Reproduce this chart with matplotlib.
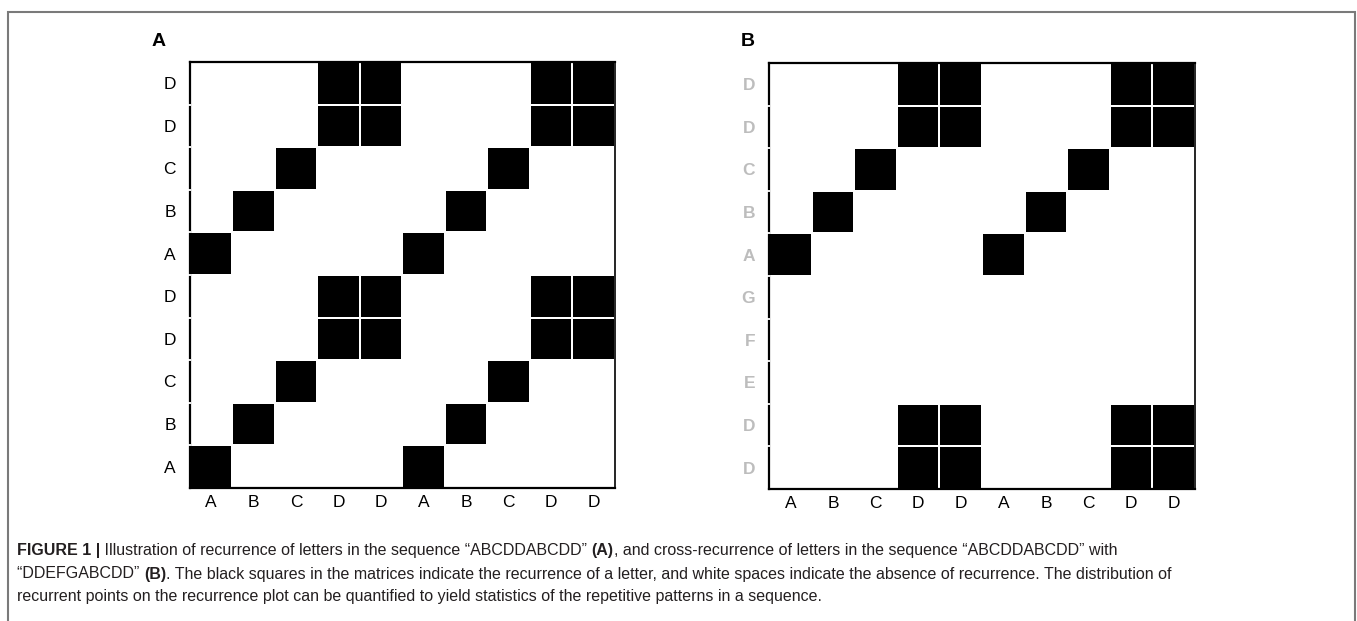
import numpy as np
import matplotlib
matplotlib.use("Agg")
import matplotlib.pyplot as plt
from matplotlib.patches import Rectangle

# sequences (bottom-to-top for rows)
seq_x = ["A", "B", "C", "D", "D", "A", "B", "C", "D", "D"]
seq_y_a = ["A", "B", "C", "D", "D", "A", "B", "C", "D", "D"]
seq_y_b = ["D", "D", "E", "F", "G", "A", "B", "C", "D", "D"]

caption_lines = [
    [("FIGURE 1 |", "bold"),
     (" Illustration of recurrence of letters in the sequence \u201cABCDDABCDD\u201d ", "normal"),
     ("(A)", "bold"),
     (", and cross-recurrence of letters in the sequence \u201cABCDDABCDD\u201d with", "normal")],
    [("\u201cDDEFGABCDD\u201d ", "normal"),
     ("(B)", "bold"),
     (". The black squares in the matrices indicate the recurrence of a letter, and white spaces "
      "indicate the absence of recurrence. The distribution of", "normal")],
    [("recurrent points on the recurrence plot can be quantified to yield statistics of the "
      "repetitive patterns in a sequence.", "normal")],
]

plt.rcParams['font.family'] = ['Liberation Sans', 'DejaVu Sans']

fig = plt.figure(figsize=(13.57, 6.21), dpi=100)


def recurrence(xs, ys):
    return np.array([[1 if a == b else 0 for a in xs] for b in ys])


def draw_panel(ax, xs, ys, ycolor, yweight):
    m = recurrence(xs, ys)
    nx, ny = len(xs), len(ys)
    ax.pcolormesh(np.arange(nx + 1), np.arange(ny + 1), m,
                  cmap=matplotlib.colors.ListedColormap(["white", "black"]),
                  edgecolors="white", linewidth=1.1, zorder=3)
    # thin white breaks across the left spine at each row boundary
    ax.hlines(np.arange(1, ny), -0.07, 0.03, color="white", lw=1.3,
              zorder=5, clip_on=False)
    ax.set_xlim(0, nx)
    ax.set_ylim(0, ny)
    ax.set_xticks(np.arange(nx) + 0.5)
    ax.set_xticklabels(xs, fontsize=12.5)
    ax.set_yticks(np.arange(ny) + 0.5)
    ax.set_yticklabels(ys, fontsize=12.5, color=ycolor, fontweight=yweight)
    ax.tick_params(length=0)
    ax.tick_params(axis="x", pad=5)
    ax.tick_params(axis="y", pad=10)
    for s in ax.spines.values():
        s.set_linewidth(1.6)
        s.set_zorder(4)
    ax.spines["right"].set_linewidth(1.2)


ax1 = fig.add_axes([0.1400, 0.2142, 0.3132, 0.6860])
draw_panel(ax1, seq_x, seq_y_a, "black", "normal")
ax2 = fig.add_axes([0.5667, 0.2126, 0.3139, 0.6860])
draw_panel(ax2, seq_x, seq_y_b, "#bdbdbd", "bold")

fig.text(152 / 1357, 1 - 41 / 621, "A", fontsize=14, fontweight="bold", va="center", ha="left")
fig.text(741 / 1357, 1 - 41 / 621, "B", fontsize=14, fontweight="bold", va="center", ha="left")

# outer frame
fig.patches.append(Rectangle((8 / 1357, -0.1), 1347 / 1357, 1.1 - 12 / 621,
                             transform=fig.transFigure, fill=False,
                             edgecolor="#7a7a7a", linewidth=1.5))

# caption, drawn piecewise to mix weights
renderer = fig.canvas.get_renderer()
cap_family = ['Liberation Sans Narrow', 'Liberation Sans', 'DejaVu Sans']
line_y = [551, 574, 597]
for line, yy in zip(caption_lines, line_y):
    x = 17 / 1357
    for txt, w in line:
        t = fig.text(x, 1 - yy / 621, txt, fontsize=11.5, fontweight=w,
                     family=cap_family, va="center", ha="left", color="#231f20")
        bb = t.get_window_extent(renderer)
        x += bb.width / fig.bbox.width

fig.savefig("out.png", dpi=100)
